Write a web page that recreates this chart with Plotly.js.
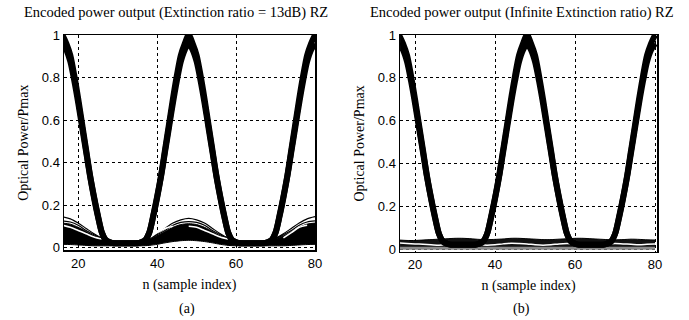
<!DOCTYPE html>
<html>
<head>
<meta charset="utf-8">
<script src="https://cdn.plot.ly/plotly-3.0.1.min.js"></script>
<style>html,body{margin:0;padding:0;background:#fff;}#chart{width:689px;height:320px;}</style>
</head>
<body>
<div id="chart"></div>
<script>
// sample index, 1-step, for the thick encoded pulses
var nFine = [16,17,18,19,20,21,22,23,24,25,26,27,28,29,30,31,32,33,34,35,36,37,38,39,40,41,42,43,44,45,46,47,48,49,50,51,52,53,54,55,56,57,58,59,60,61,62,63,64,65,66,67,68,69,70,71,72,73,74,75,76,77,78,79,80];
var pulseHi = [1.00,0.96,0.905,0.81,0.70,0.58,0.46,0.34,0.24,0.15,0.07,0.035,0.025,0.02,0.02,0.02,0.02,0.02,0.02,0.02,0.025,0.035,0.07,0.15,0.24,0.34,0.46,0.58,0.70,0.81,0.905,0.96,1.00,0.96,0.905,0.81,0.70,0.58,0.46,0.34,0.24,0.15,0.07,0.035,0.025,0.02,0.02,0.02,0.02,0.02,0.02,0.02,0.025,0.035,0.07,0.15,0.24,0.34,0.46,0.58,0.70,0.81,0.905,0.96,1.00];
var pulseLo = [0.96,0.93,0.875,0.785,0.68,0.565,0.45,0.335,0.235,0.145,0.07,0.035,0.025,0.02,0.02,0.02,0.02,0.02,0.02,0.02,0.025,0.035,0.07,0.145,0.235,0.335,0.45,0.565,0.68,0.785,0.875,0.93,0.96,0.93,0.875,0.785,0.68,0.565,0.45,0.335,0.235,0.145,0.07,0.035,0.025,0.02,0.02,0.02,0.02,0.02,0.02,0.02,0.025,0.035,0.07,0.145,0.235,0.335,0.45,0.565,0.68,0.785,0.875,0.93,0.96];

// sample index, 2-step, for crosstalk / noise floor
var nCoarse = [16,18,20,22,24,26,28,30,32,34,36,38,40,42,44,46,48,50,52,54,56,58,60,62,64,66,68,70,72,74,76,78,80];
// (a) extinction ratio 13 dB: crosstalk traces
var xtTop  = [0.145,0.135,0.115,0.09,0.065,0.045,0.035,0.03,0.03,0.03,0.035,0.045,0.065,0.09,0.115,0.13,0.137,0.13,0.115,0.09,0.065,0.045,0.035,0.03,0.03,0.03,0.035,0.045,0.065,0.09,0.115,0.135,0.145];
var xtMid  = [0.125,0.12,0.105,0.08,0.06,0.042,0.032,0.028,0.028,0.028,0.032,0.042,0.06,0.08,0.105,0.118,0.122,0.118,0.105,0.08,0.06,0.042,0.032,0.028,0.028,0.028,0.032,0.042,0.06,0.08,0.105,0.12,0.125];
var bandTop= [0.115,0.11,0.095,0.075,0.055,0.04,0.03,0.028,0.028,0.028,0.03,0.04,0.055,0.075,0.095,0.108,0.112,0.108,0.095,0.075,0.055,0.04,0.03,0.028,0.028,0.028,0.03,0.04,0.055,0.075,0.095,0.11,0.115];
var bandBot= [0.015,0.014,0.012,0.01,0.008,0.008,0.008,0.008,0.008,0.008,0.008,0.01,0.015,0.022,0.028,0.032,0.034,0.032,0.028,0.022,0.015,0.01,0.008,0.008,0.008,0.008,0.008,0.008,0.008,0.01,0.012,0.014,0.015];
var gapA   = [0.105,0.095,0.08,0.065,0.05,0.04,null,null,null,null,null,0.045,0.07,0.09,0.1,null,0.1,0.095,0.08,0.065,0.05,0.04,null,null,null,null,null,null,0.045,0.07,0.095,0.105,null];
// (b) infinite extinction ratio: noise floor
var nzTop  = [0.042,0.04,0.04,0.042,0.044,0.046,0.048,0.05,0.05,0.048,0.045,0.044,0.045,0.047,0.05,0.05,0.048,0.046,0.044,0.044,0.046,0.048,0.05,0.05,0.048,0.046,0.044,0.043,0.044,0.046,0.045,0.043,0.042];
var nzGap  = [0.028,0.026,0.024,0.022,0.02,0.018,0.02,0.024,0.026,0.024,0.02,0.018,0.02,0.024,0.027,0.026,0.024,0.02,0.018,0.02,0.024,0.026,0.024,0.02,0.018,0.02,0.024,0.026,0.024,0.022,0.02,0.022,0.024];
var nzBot  = [0.004,0.004,0.004,0.004,0.004,0.004,0.004,0.004,0.004,0.004,0.004,0.004,0.004,0.004,0.004,0.004,0.004,0.004,0.004,0.004,0.004,0.004,0.004,0.004,0.004,0.004,0.004,0.004,0.004,0.004,0.004,0.004,0.004];

var xTicks = [20,40,60,80];
var yTicks = [0,0.2,0.4,0.6,0.8,1];
var yTickText = ['0','0.2','0.4','0.6','0.8','1'];

var titleA = 'Encoded power output (Extinction ratio = 13dB) RZ';
var titleB = 'Encoded power output (Infinite Extinction ratio) RZ';
var xTitle = 'n (sample index)';
var yTitle = 'Optical Power/Pmax';

function tr(x, y, xa, ya, opts) {
  var t = {x: x, y: y, xaxis: xa, yaxis: ya, mode: 'lines', hoverinfo: 'skip',
    line: {color: opts.color || '#000', width: opts.width || 1, shape: opts.shape || 'spline', smoothing: 0.8}};
  if (opts.fill) { t.fill = opts.fill; t.fillcolor = opts.fillcolor; }
  if (opts.connectgaps === false) t.connectgaps = false;
  return t;
}

var data = [
  // (a)
  tr(nCoarse, bandBot, 'x', 'y', {width: 1}),
  tr(nCoarse, bandTop, 'x', 'y', {width: 1, fill: 'tonexty', fillcolor: '#000'}),
  tr(nCoarse, xtMid, 'x', 'y', {width: 1.2}),
  tr(nCoarse, xtTop, 'x', 'y', {width: 1.2}),
  tr(nCoarse, gapA, 'x', 'y', {color: '#fff', width: 1.6, connectgaps: false}),
  tr(nFine, pulseLo, 'x', 'y', {width: 6}),
  tr(nFine, pulseHi, 'x', 'y', {width: 6}),
  // (b)
  tr(nCoarse, nzBot, 'x2', 'y2', {color: '#888', width: 3}),
  tr(nCoarse, nzTop, 'x2', 'y2', {width: 1, fill: 'tonexty', fillcolor: '#111'}),
  tr(nCoarse, nzGap, 'x2', 'y2', {color: '#fff', width: 1.5}),
  tr(nFine, pulseLo, 'x2', 'y2', {width: 6}),
  tr(nFine, pulseHi, 'x2', 'y2', {width: 6})
];

var tickFont = {family: 'Liberation Sans, Arial, sans-serif', size: 13, color: '#000'};
var serif = {family: 'Liberation Serif, Times New Roman, serif', size: 14.5, color: '#000'};
var serifAx = {family: 'Liberation Serif, Times New Roman, serif', size: 14, color: '#000'};

function xax(domain, range) {
  return {domain: domain, range: range, tickvals: xTicks, ticks: '', showgrid: true, gridcolor: '#000',
    griddash: 'dot', gridwidth: 1, zeroline: false, showline: true, mirror: true, linecolor: '#000',
    linewidth: 1.5, tickfont: tickFont, fixedrange: true,
    title: {text: xTitle, font: serifAx, standoff: 9}};
}
function yax(domain, range) {
  return {domain: domain, range: range, tickvals: yTicks, ticktext: yTickText, ticks: '', showgrid: true,
    gridcolor: '#000', griddash: 'dot', gridwidth: 1, zeroline: false, showline: true, mirror: true,
    linecolor: '#000', linewidth: 1.5, tickfont: tickFont, fixedrange: true,
    title: {text: yTitle, font: serifAx, standoff: 10}};
}

var xa1 = xax([0.0929, 0.4572], [16.4, 80]); xa1.anchor = 'y';
var ya1 = yax([0.2172, 0.8906], [-0.014, 1]); ya1.anchor = 'x';
var xa2 = xax([0.5806, 0.9536], [16.25, 80.5]); xa2.anchor = 'y2';
var ya2 = yax([0.2134, 0.8906], [-0.0126, 1]); ya2.anchor = 'x2';

var layout = {
  width: 689, height: 320, margin: {l: 0, r: 0, t: 0, b: 0},
  paper_bgcolor: '#fff', plot_bgcolor: '#fff', showlegend: false,
  xaxis: xa1, yaxis: ya1, xaxis2: xa2, yaxis2: ya2,
  annotations: [
    {text: titleA, xref: 'paper', yref: 'paper', x: 0.2554, y: 0.96, showarrow: false, font: serif, xanchor: 'center', yanchor: 'middle'},
    {text: titleB, xref: 'paper', yref: 'paper', x: 0.7583, y: 0.96, showarrow: false, font: serif, xanchor: 'center', yanchor: 'middle'},
    {text: '(a)', xref: 'paper', yref: 'paper', x: 0.2714, y: 0.034, showarrow: false, font: serifAx, xanchor: 'center', yanchor: 'middle'},
    {text: '(b)', xref: 'paper', yref: 'paper', x: 0.7576, y: 0.034, showarrow: false, font: serifAx, xanchor: 'center', yanchor: 'middle'}
  ]
};

Plotly.newPlot('chart', data, layout, {displayModeBar: false, staticPlot: true});
</script>
</body>
</html>
